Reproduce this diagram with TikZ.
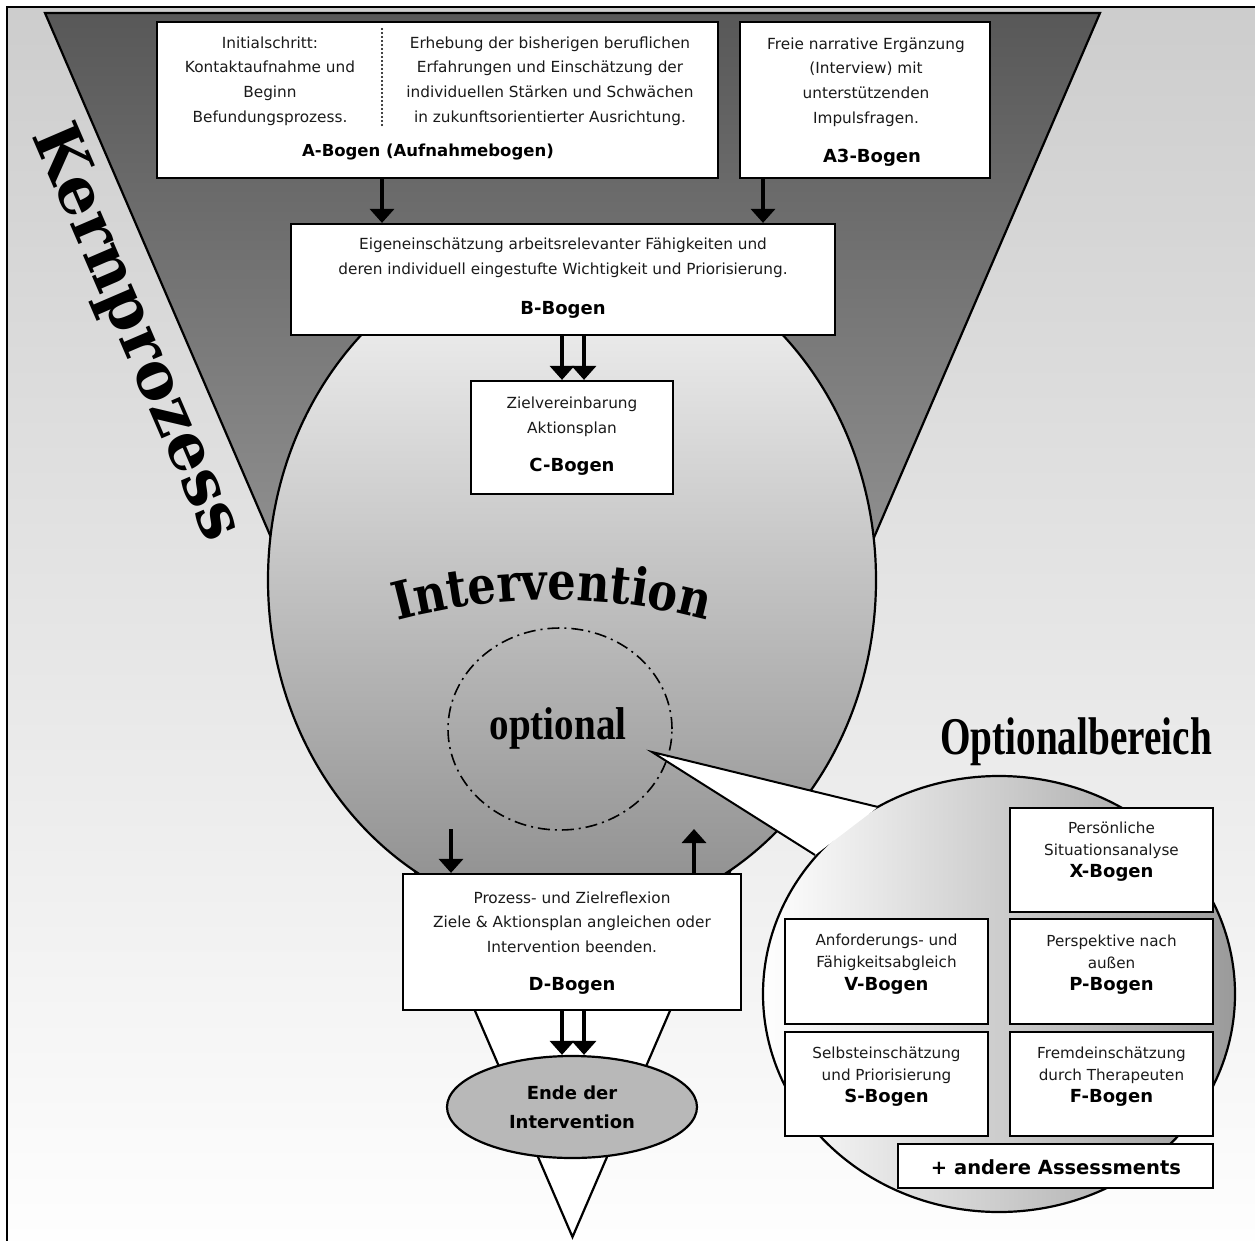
\documentclass[tikz,border=0pt]{standalone}
\usepackage{fontspec}
\setmainfont{DejaVu Sans}
\newfontfamily\slab{DejaVu Serif}
\newfontfamily\slabc{DejaVu Serif}[FakeStretch=0.86]
\newfontfamily\cond{Liberation Serif}[FakeStretch=0.74]
\newfontfamily\condb{Liberation Serif}[FakeStretch=0.85]
\usetikzlibrary{arrows.meta,decorations.text,shapes.geometric}
\definecolor{bgtop}{HTML}{CDCDCD}
\definecolor{bgbot}{HTML}{FEFEFE}
\definecolor{funtop}{HTML}{585858}
\definecolor{funbot}{HTML}{8E8E8E}
\definecolor{eltop}{HTML}{F8F8F8}
\definecolor{elmid}{HTML}{D0D0D0}
\definecolor{elbot}{HTML}{8C8C8C}
\definecolor{opmid}{HTML}{D6D6D6}
\definecolor{opright}{HTML}{9A9A9A}
\definecolor{endfill}{HTML}{B8B8B8}
\definecolor{bodytext}{HTML}{1A1A1A}
\begin{document}
\begin{tikzpicture}[x=1pt,y=-1pt,
  box/.style={draw=black, line width=2.2pt, fill=white, rectangle, inner sep=0pt},
  txt/.style={align=center, inner sep=0pt, text=bodytext, font=\fontsize{15.3}{24.6}\selectfont},
  stxt/.style={align=center, inner sep=0pt, text=bodytext, font=\fontsize{15.2}{22}\selectfont},
  lbl/.style={inner sep=0pt, font=\bfseries\fontsize{18}{20}\selectfont},
  arr/.style={line width=3.5pt, -{Triangle[width=24pt,length=14pt]}},
  outl/.style={line width=2.2pt, line join=miter},
]
\useasboundingbox (0,0) rectangle (1255,1241);
% background
\fill[white] (0,0) rectangle (1255,1241);
\fill[top color=bgtop, bottom color=bgbot] (7,7) rectangle (1255,1241);
\draw[line width=1.6pt] (7,1241) -- (7,7) -- (1255,7);

% big funnel triangle
\coordinate (T1) at (45,13);
\coordinate (T2) at (1100,13);
\coordinate (T3) at (572.5,1237);
\coordinate (TL) at (270,535);
\coordinate (TR) at (875,535);
\fill[white] (T1) -- (T2) -- (T3) -- cycle;
\fill[top color=funtop, bottom color=funbot] (T1) -- (T2) -- (TR) -- (TL) -- cycle;
\draw[outl] (T1) -- (T2) -- (T3) -- cycle;

% big ellipse (Intervention)
\path[draw, line width=2.2pt, top color=eltop, middle color=elmid, bottom color=elbot]
  (572,580) ellipse [x radius=304pt, y radius=340pt];

% Kernprozess
\node[rotate=-66.7, inner sep=0pt, font=\slab\bfseries\fontsize{64}{64}\selectfont] (kern) at (135,333) {Kernprozess};

% Intervention curved text
\path[decorate, decoration={text along path, text align=center,
  text={|\slabc\bfseries\fontsize{52}{52}\selectfont|Intervention}}]
  (356.7,632.7) arc[start angle=109, end angle=71, radius=600pt];

% optional circle (Optionalbereich)
\path[draw, line width=2.2pt, left color=white, middle color=opmid, right color=opright]
  (999,994) ellipse [x radius=236pt, y radius=218pt];

% callout wedge
\coordinate (wa) at (652,752);
\coordinate (wb) at (878,807);
\coordinate (wc) at (815,855);
\fill[white] (wa) -- (wb) -- (wc) -- cycle;
\draw[line width=2pt, line join=miter] (wb) -- (wa) -- (wc);

% dash-dot circle
\draw[line width=1.6pt, dash pattern=on 12pt off 5pt on 2pt off 5pt]
  (560,729) ellipse [x radius=112pt, y radius=101pt];
\node[inner sep=0pt, anchor=base, font=\condb\bfseries\fontsize{46}{46}\selectfont] (opt) at (558,739) {optional};

% Optionalbereich title
\node[inner sep=0pt, anchor=base, font=\cond\bfseries\fontsize{53}{53}\selectfont] (optb) at (1076,754) {Optionalbereich};

% ---------- A box ----------
\node[box, minimum width=561pt, minimum height=156pt] (A) at (437.5,100) {};
\draw[line width=2.4pt, line cap=round, dash pattern=on 0pt off 4pt] (382,29) -- (382,127);
\node[txt] (A1) at (270,81) {Initialschritt:\\Kontaktaufnahme und\\Beginn\\Befundungsprozess.};
\node[txt] (A2) at (550,81) {Erhebung der bisherigen beruflichen\\Erfahrungen und Einschätzung der\\individuellen Stärken und Schwächen\\in zukunftsorientierter Ausrichtung.};
\node[lbl, font=\bfseries\fontsize{16.5}{20}\selectfont] (Al) at (428,152) {A-Bogen (Aufnahmebogen)};

% ---------- A3 box ----------
\node[box, minimum width=250pt, minimum height=156pt] (A3) at (865,100) {};
\node[txt] (A31) at (866,82) {Freie narrative Ergänzung\\(Interview) mit\\unterstützenden\\Impulsfragen.};
\node[lbl] (A3l) at (872,158) {A3-Bogen};

% ---------- B box ----------
\node[box, minimum width=544pt, minimum height=111pt] (B) at (563,279.5) {};
\node[txt] (B1) at (563,258) {Eigeneinschätzung arbeitsrelevanter Fähigkeiten und\\deren individuell eingestufte Wichtigkeit und Priorisierung.};
\node[lbl] (Bl) at (563,310) {B-Bogen};

% ---------- C box ----------
\node[box, minimum width=202pt, minimum height=113pt] (C) at (572,437.5) {};
\node[txt] (C1) at (572,416.5) {Zielvereinbarung\\Aktionsplan};
\node[lbl] (Cl) at (572,467) {C-Bogen};

% ---------- D box ----------
\node[box, minimum width=338pt, minimum height=136pt] (D) at (572,942) {};
\node[txt] (D1) at (572,922) {Prozess- und Zielreflexion\\Ziele \& Aktionsplan angleichen oder\\Intervention beenden.};
\node[lbl] (Dl) at (572,986) {D-Bogen};

% ---------- Ende ellipse ----------
\node[draw, line width=2.2pt, fill=endfill, ellipse, minimum width=250pt, minimum height=102pt, inner sep=0pt] (E) at (572,1107) {};
\node[align=center, inner sep=0pt, font=\bfseries\fontsize{18}{29}\selectfont] (E1) at (572,1107) {Ende der\\Intervention};

% ---------- optional boxes ----------
\node[box, minimum width=203pt, minimum height=104pt] (X) at (1111.5,860) {};
\node[stxt] (X1) at (1111.5,840) {Persönliche\\Situationsanalyse};
\node[lbl] (Xl) at (1111.5,873) {X-Bogen};

\node[box, minimum width=203pt, minimum height=105pt] (V) at (886.5,971.5) {};
\node[stxt] (V1) at (886.5,952) {Anforderungs- und\\Fähigkeitsabgleich};
\node[lbl] (Vl) at (886.5,986) {V-Bogen};

\node[box, minimum width=203pt, minimum height=105pt] (P) at (1111.5,971.5) {};
\node[stxt] (P1) at (1111.5,952) {Perspektive nach\\außen};
\node[lbl] (Pl) at (1111.5,986) {P-Bogen};

\node[box, minimum width=203pt, minimum height=104pt] (S) at (886.5,1084) {};
\node[stxt] (S1) at (886.5,1065) {Selbsteinschätzung\\und Priorisierung};
\node[lbl] (Sl) at (886.5,1098) {S-Bogen};

\node[box, minimum width=203pt, minimum height=104pt] (F) at (1111.5,1084) {};
\node[stxt] (F1) at (1111.5,1065) {Fremdeinschätzung\\durch Therapeuten};
\node[lbl] (Fl) at (1111.5,1098) {F-Bogen};

\node[box, minimum width=315pt, minimum height=44pt] (AA) at (1055.5,1166) {};
\node[inner sep=0pt, font=\bfseries\fontsize{19.5}{22}\selectfont] (AA1) at (1056,1167) {+ andere Assessments};

% ---------- arrows ----------
\coordinate (xa) at (382,0);
\coordinate (xa3) at (763,0);
\coordinate (xb1) at (562,0);
\coordinate (xb2) at (584,0);
\coordinate (downstart) at (451,829);
\coordinate (upend) at (694,829);
\draw[arr] (xa |- A.south) -- (xa |- B.north);
\draw[arr] (xa3 |- A3.south) -- (xa3 |- B.north);
\draw[arr] (xb1 |- B.south) -- (xb1 |- C.north);
\draw[arr] (xb2 |- B.south) -- (xb2 |- C.north);
\draw[arr] (downstart) -- (downstart |- D.north);
\draw[arr] (upend |- D.north) -- (upend);
\draw[arr] (xb1 |- D.south) -- (xb1 |- E.north);
\draw[arr] (xb2 |- D.south) -- (xb2 |- E.north);
\end{tikzpicture}
\end{document}
